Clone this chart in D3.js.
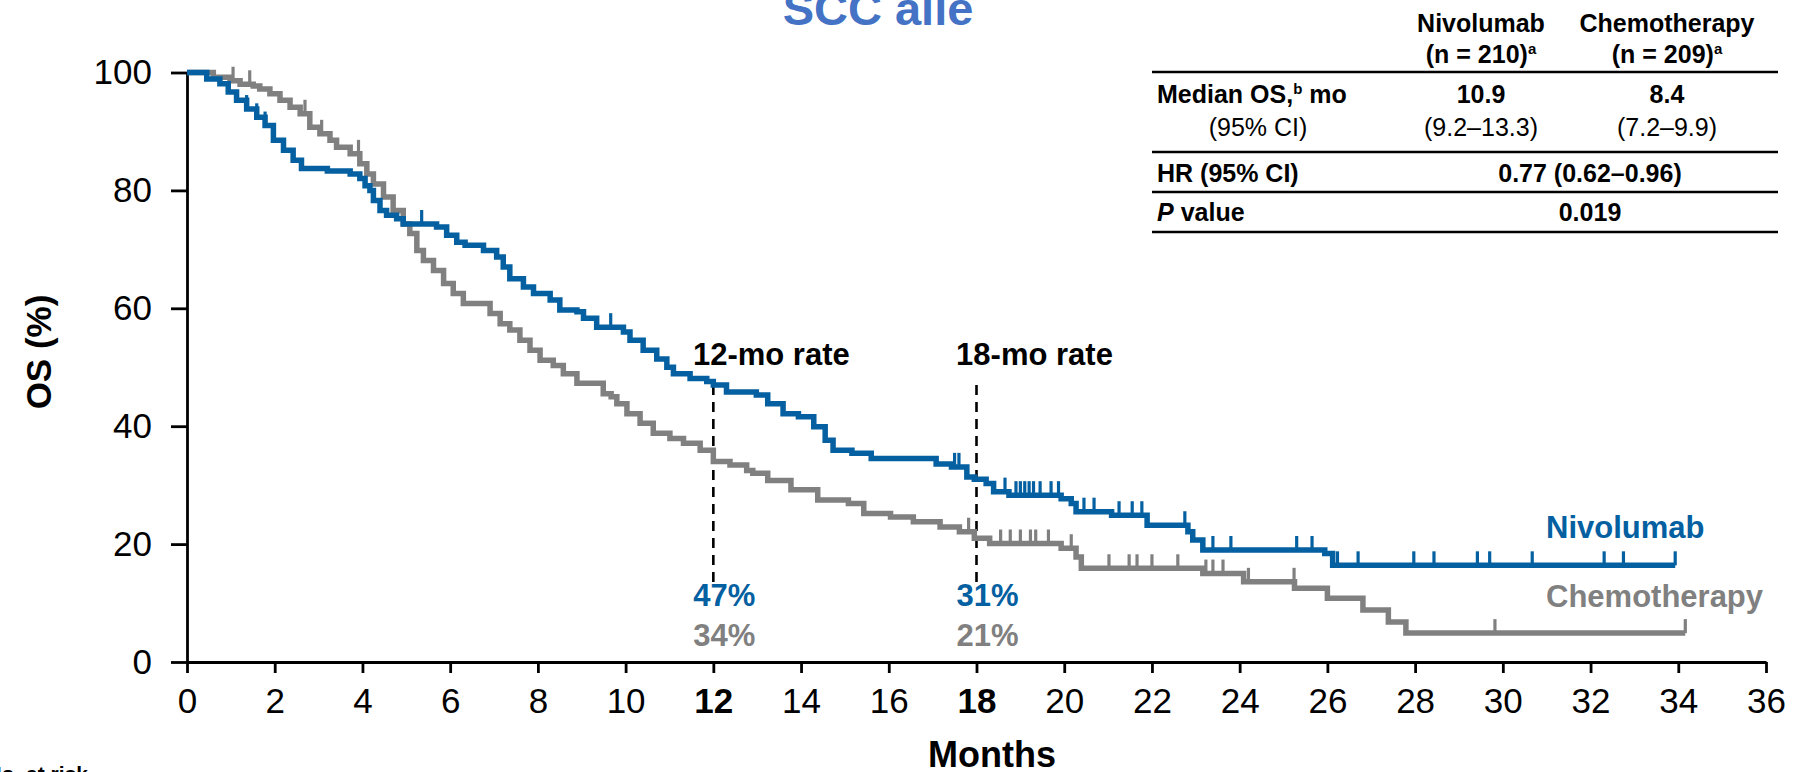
<!DOCTYPE html>
<html>
<head>
<meta charset="utf-8">
<script src="https://cdn.jsdelivr.net/npm/d3@7"></script>
<style>
  html, body { margin: 0; padding: 0; background: #fff; }
  svg { display: block; }
  text { font-family: "Liberation Sans", Arial, Helvetica, sans-serif; }
</style>
</head>
<body>
<svg id="km" width="1796" height="772"></svg>
<script>
// ---- Axis ticks ----
const monthTicks = [0, 2, 4, 6, 8, 10, 12, 14, 16, 18, 20, 22, 24, 26, 28, 30, 32, 34, 36];
const osTicks = [0, 20, 40, 60, 80, 100];
const boldMonths = [12, 18];

// ---- Kaplan–Meier steps: [month, OS %] (value holds from that month on) ----
const nivoSteps = [
  [0, 100], [0.45, 98.9], [0.75, 98.1], [0.94, 96.7], [1.13, 95.3], [1.36, 93.8], [1.59, 92.4],
  [1.78, 91.0], [1.97, 88.5], [2.2, 86.8], [2.42, 85.1], [2.61, 83.7], [3.2, 83.3], [3.72, 82.8],
  [3.94, 82.0], [4.06, 80.8], [4.17, 80.0], [4.25, 78.3], [4.4, 76.6], [4.55, 75.8], [4.78, 75.2],
  [4.93, 74.3], [5.69, 73.8], [5.92, 72.4], [6.15, 71.2], [6.34, 70.7], [6.76, 69.8], [7.06, 68.7],
  [7.21, 67.0], [7.36, 65.0], [7.67, 63.6], [7.9, 62.5], [8.28, 61.4], [8.5, 59.7], [8.89, 59.4],
  [9.04, 58.3], [9.34, 56.8], [9.95, 56.0], [10.1, 54.6], [10.4, 52.9], [10.71, 51.4], [10.94, 50.0],
  [11.09, 48.9], [11.47, 48.1], [11.85, 47.6], [12.0, 47.0], [12.3, 45.8], [12.98, 45.3],
  [13.24, 43.8], [13.59, 42.1], [13.94, 41.6], [14.29, 39.9], [14.55, 37.6], [14.73, 35.9],
  [15.16, 35.4], [15.6, 34.5], [17.08, 33.6], [17.43, 33.1], [17.78, 31.4], [17.95, 31.0],
  [18.22, 30.3], [18.39, 28.9], [18.74, 28.3], [19.93, 27.7], [20.16, 26.9], [20.27, 25.5],
  [21.08, 24.9], [21.89, 23.2], [22.82, 22.1], [22.93, 20.7], [23.16, 19.0], [25.94, 18.4],
  [26.12, 16.4]
];
const nivoEnd = 33.93;

const chemoSteps = [
  [0, 100], [0.6, 99.2], [0.98, 98.6], [1.21, 98.0], [1.51, 97.7], [1.66, 97.2], [1.89, 96.4],
  [2.12, 95.3], [2.35, 94.1], [2.58, 93.0], [2.8, 90.7], [3.03, 89.6], [3.26, 88.5], [3.41, 87.3],
  [3.72, 86.2], [3.94, 84.5], [4.1, 82.8], [4.25, 81.1], [4.48, 78.9], [4.7, 76.6], [4.93, 74.3],
  [5.08, 72.7], [5.24, 69.8], [5.39, 68.1], [5.62, 66.4], [5.85, 64.2], [6.07, 62.5], [6.3, 60.8],
  [6.91, 59.1], [7.14, 57.4], [7.36, 56.3], [7.59, 54.6], [7.82, 52.9], [8.05, 51.2], [8.35, 50.3],
  [8.58, 48.9], [8.89, 47.3], [9.49, 45.5], [9.67, 45.0], [9.8, 43.8], [10.03, 42.1], [10.33, 40.5],
  [10.63, 38.8], [11.01, 37.9], [11.32, 37.1], [11.7, 35.9], [12.0, 34.0], [12.38, 33.4],
  [12.76, 32.5], [12.9, 32.0], [13.24, 30.8], [13.77, 29.2], [14.38, 27.5], [15.08, 26.9],
  [15.43, 25.2], [16.04, 24.6], [16.56, 23.8], [17.17, 22.9], [17.61, 22.1], [17.95, 21.0],
  [18.3, 20.1], [19.93, 19.3], [20.27, 17.8], [20.39, 15.9], [23.16, 15.0], [24.09, 13.6],
  [25.25, 12.5], [26.0, 10.8], [26.81, 8.8], [27.39, 6.8], [27.79, 4.9]
];
const chemoEnd = 34.16;

// ---- Censoring marks (months) ----
const nivoCensor = [1.36, 1.59, 1.78, 5.35, 9.66, 17.5, 17.6, 18.65, 18.9, 19.0, 19.1, 19.2, 19.3,
  19.45, 19.7, 19.87, 20.45, 20.68, 21.25, 21.55, 21.77, 22.75, 23.39, 23.8, 25.3, 25.65, 26.23,
  26.7, 27.97, 28.43, 29.42, 29.7, 30.67, 32.31, 32.75, 33.93];
const chemoCensor = [1.05, 1.43, 2.69, 3.07, 3.91, 17.82, 18.55, 18.77, 19.0, 19.23, 19.35, 19.64,
  20.16, 21.02, 21.48, 21.66, 22.0, 22.59, 23.23, 23.39, 23.62, 24.2, 25.24, 29.82, 34.16];

// ---- Landmark rates ----
const landmarkMonths = [12, 18];
const landmarkLabels = ["12-mo rate", "18-mo rate"];
const nivoRates = [47, 31];
const chemoRates = [34, 21];
const landmarkSpan = [47, 13.5];

// ---- Summary table ----
const tableHeads = [["Nivolumab", "(n = 210)", "a"], ["Chemotherapy", "(n = 209)", "a"]];
const medianOS = ["10.9", "8.4"];
const medianCI = ["(9.2\u201313.3)", "(7.2\u20139.9)"];
const hrText = "0.77 (0.62\u20130.96)";
const pText = "0.019";

const colors = { nivo: "#0460A1", chemo: "#808080", title: "#4472C4", ink: "#000" };

const svg = d3.select("#km");
const x = d3.scaleLinear().domain([0, 36]).range([187, 1766]);
const y = d3.scaleLinear().domain([0, 100]).range([662, 72.5]);

// Title (clipped at top edge)
svg.append("text").attr("x", 878).attr("y", 25).attr("text-anchor", "middle")
  .attr("font-size", 47).attr("font-weight", "bold").attr("fill", colors.title).text("SCC alle");

// Axes
const yAxis = svg.append("g").attr("transform", `translate(${x(0)},0)`)
  .call(d3.axisLeft(y).tickValues(osTicks).tickSize(16).tickSizeOuter(0).tickPadding(19));
const xAxis = svg.append("g").attr("transform", `translate(0,${y(0)})`)
  .call(d3.axisBottom(x).tickValues(monthTicks).tickSize(11).tickSizeOuter(0).tickPadding(15));
[yAxis, xAxis].forEach(g => {
  g.selectAll("path, line").attr("stroke", colors.ink).attr("stroke-width", 2.8);
  g.selectAll("text").attr("font-family", "Liberation Sans, Arial, sans-serif").attr("fill", colors.ink);
});
yAxis.selectAll("text").attr("font-size", 35);
xAxis.selectAll("text").attr("font-size", 35)
  .attr("font-weight", d => boldMonths.includes(d) ? "bold" : "normal");

svg.append("text").attr("transform", `translate(51,352) rotate(-90)`).attr("text-anchor", "middle")
  .attr("font-size", 35).attr("font-weight", "bold").text("OS (%)");
svg.append("text").attr("x", 992).attr("y", 767).attr("text-anchor", "middle")
  .attr("font-size", 36).attr("font-weight", "bold").text("Months");
svg.append("text").attr("x", 88).attr("y", 781).attr("text-anchor", "end")
  .attr("font-size", 21).attr("font-weight", "bold").text("No. at risk");

// Landmark dashed lines and labels
landmarkMonths.forEach((m, i) => {
  svg.append("line").attr("x1", x(m)).attr("x2", x(m))
    .attr("y1", y(landmarkSpan[0])).attr("y2", y(landmarkSpan[1]))
    .attr("stroke", colors.ink).attr("stroke-width", 2.6).attr("stroke-dasharray", "10,7");
  svg.append("text").attr("x", x(m) + 58).attr("y", 365).attr("text-anchor", "middle")
    .attr("font-size", 31).attr("font-weight", "bold").text(landmarkLabels[i]);
  svg.append("text").attr("x", x(m) + 11).attr("y", 606).attr("text-anchor", "middle")
    .attr("font-size", 31).attr("font-weight", "bold").attr("fill", colors.nivo).text(nivoRates[i] + "%");
  svg.append("text").attr("x", x(m) + 11).attr("y", 646).attr("text-anchor", "middle")
    .attr("font-size", 31).attr("font-weight", "bold").attr("fill", colors.chemo).text(chemoRates[i] + "%");
});

// Survival curves
const stepLine = d3.line().x(d => x(d[0])).y(d => y(d[1])).curve(d3.curveStepAfter);
function valueAt(steps, t) {
  let v = steps[0][1];
  for (const s of steps) { if (s[0] <= t) v = s[1]; else break; }
  return v;
}
function drawArm(steps, end, censor, color) {
  const pts = steps.concat([[end, steps[steps.length - 1][1]]]);
  svg.append("path").datum(pts).attr("d", stepLine).attr("fill", "none")
    .attr("stroke", color).attr("stroke-width", 5.5).attr("stroke-linejoin", "miter");
  svg.append("g").selectAll("line").data(censor).join("line")
    .attr("x1", d => x(d)).attr("x2", d => x(d))
    .attr("y1", d => y(valueAt(steps, d))).attr("y2", d => y(valueAt(steps, d)) - 14)
    .attr("stroke", color).attr("stroke-width", 3.2);
}
drawArm(chemoSteps, chemoEnd, chemoCensor, colors.chemo);
drawArm(nivoSteps, nivoEnd, nivoCensor, colors.nivo);

svg.append("text").attr("x", 1546).attr("y", 538).attr("font-size", 31).attr("font-weight", "bold")
  .attr("fill", colors.nivo).text("Nivolumab");
svg.append("text").attr("x", 1546).attr("y", 607).attr("font-size", 31).attr("font-weight", "bold")
  .attr("fill", colors.chemo).text("Chemotherapy");

// Summary table
const tbl = svg.append("g").attr("font-size", 25);
const colX = [1481, 1667];
const mergedX = 1590;
const rowLeft = 1157;
[72, 152, 192, 232].forEach(ly => {
  tbl.append("line").attr("x1", 1152).attr("x2", 1778).attr("y1", ly).attr("y2", ly)
    .attr("stroke", colors.ink).attr("stroke-width", 2.4);
});
tableHeads.forEach((h, i) => {
  tbl.append("text").attr("x", colX[i]).attr("y", 32).attr("text-anchor", "middle")
    .attr("font-weight", "bold").text(h[0]);
  const t = tbl.append("text").attr("x", colX[i]).attr("y", 63).attr("text-anchor", "middle")
    .attr("font-weight", "bold");
  t.append("tspan").text(h[1]);
  t.append("tspan").attr("font-size", 15).attr("dy", -9).text(h[2]);
});
const med = tbl.append("text").attr("x", rowLeft).attr("y", 103).attr("font-weight", "bold");
med.append("tspan").text("Median OS,");
med.append("tspan").attr("font-size", 15).attr("dy", -9).text("b");
med.append("tspan").attr("dy", 9).text(" mo");
tbl.append("text").attr("x", 1258).attr("y", 136).attr("text-anchor", "middle").text("(95% CI)");
medianOS.forEach((v, i) => tbl.append("text").attr("x", colX[i]).attr("y", 103)
  .attr("text-anchor", "middle").attr("font-weight", "bold").text(v));
medianCI.forEach((v, i) => tbl.append("text").attr("x", colX[i]).attr("y", 136)
  .attr("text-anchor", "middle").text(v));
tbl.append("text").attr("x", rowLeft).attr("y", 182).attr("font-weight", "bold").text("HR (95% CI)");
tbl.append("text").attr("x", mergedX).attr("y", 182).attr("text-anchor", "middle")
  .attr("font-weight", "bold").text(hrText);
const pv = tbl.append("text").attr("x", rowLeft).attr("y", 221).attr("font-weight", "bold");
pv.append("tspan").attr("font-style", "italic").text("P");
pv.append("tspan").text(" value");
tbl.append("text").attr("x", mergedX).attr("y", 221).attr("text-anchor", "middle")
  .attr("font-weight", "bold").text(pText);
</script>
</body>
</html>
